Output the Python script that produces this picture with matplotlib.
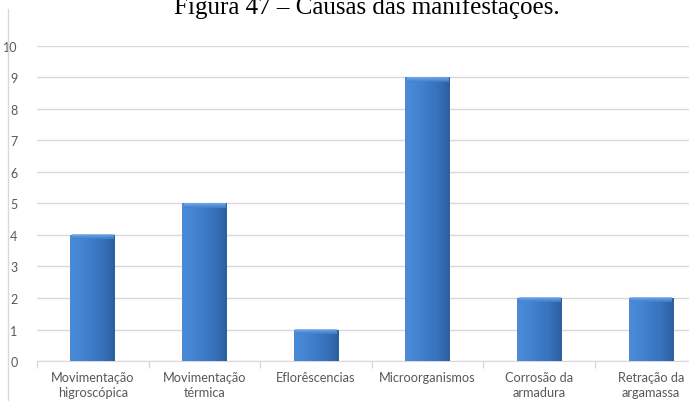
import matplotlib.pyplot as plt
import numpy as np
from matplotlib.colors import LinearSegmentedColormap

# causes of the observed manifestations (number of occurrences)
causas = ['Movimentação\nhigroscópica', 'Movimentação\ntérmica', 'Eflorêscencias',
          'Microorganismos', 'Corrosão da\narmadura', 'Retração da\nargamassa']
ocorrencias = [4, 5, 1, 9, 2, 2]
y_ticks = list(range(0, 11))

plt.rcParams['font.family'] = ['Lato', 'DejaVu Sans']

fig = plt.figure(figsize=(6.89, 4.02), dpi=100)
ax = fig.add_axes([0.0537, 0.0995, 0.9463, 0.7836])

x = np.arange(len(causas))
bars = ax.bar(x, ocorrencias, width=0.4, color='#3b78c4', zorder=3)

# horizontal shading so the bars look bevelled
shade = LinearSegmentedColormap.from_list(
    'shade', ['#4b8bd9', '#4485d3', '#3c7bc8', '#3670bb', '#2d5f9f'])
grad = np.linspace(0, 1, 64).reshape(1, -1)
top = LinearSegmentedColormap.from_list('top', ['#3f7ecb', '#7cb1ee'])
vgrad = np.linspace(0, 1, 16).reshape(-1, 1)
for b in bars:
    x0, w, h = b.get_x(), b.get_width(), b.get_height()
    im = ax.imshow(grad, cmap=shade, aspect='auto', zorder=4,
                   extent=(x0, x0 + w, 0, h), interpolation='bicubic')
    im.set_clip_path(b)
    # lighter band along the top edge
    ax.imshow(vgrad, cmap=top, aspect='auto', zorder=5, origin='lower',
              extent=(x0 + w * 0.04, x0 + w * 0.96, h - 0.13, h),
              interpolation='bicubic', alpha=0.85)

ax.set_xlim(-0.5, 5.342)
ax.set_ylim(0, 10)
ax.set_yticks(y_ticks)
ax.set_xticks(x)
ax.set_xticklabels(causas, fontsize=9.2, color='#595959', linespacing=1.3)
ax.set_xticks(np.arange(-0.5, 5.5, 1), minor=True)
ax.tick_params(axis='x', which='major', length=0, pad=7)
ax.tick_params(axis='x', which='minor', length=5, color='#d9d9d9', width=1)
ax.tick_params(axis='y', length=0, labelsize=9, labelcolor='#595959', pad=14)

ax.grid(axis='y', color='#d9d9d9', linewidth=1, zorder=0)
for s in ['top', 'right', 'left']:
    ax.spines[s].set_visible(False)
ax.spines['bottom'].set_color('#d9d9d9')

# left border of the chart frame
fig.add_artist(plt.Line2D([0.012, 0.012], [0, 0.975], color='#d9d9d9', lw=1))

fig.text(0.533, 0.965, 'Figura 47 – Causas das manifestações.', ha='center',
         va='baseline', fontsize=18, family='Liberation Serif', color='black')

fig.savefig('out.png', dpi=100)
